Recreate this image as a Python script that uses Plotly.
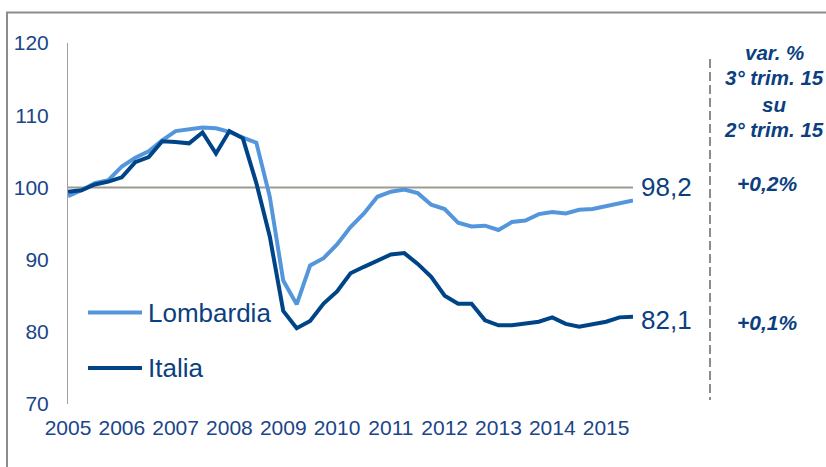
import plotly.graph_objects as go

# ---------------- data ----------------
years = ["2005", "2006", "2007", "2008", "2009", "2010", "2011", "2012", "2013", "2014", "2015"]
quarters = [f"{y} T{q}" for y in years for q in (1, 2, 3, 4)][:43]  # 2005 T1 .. 2015 T3

lombardia = [98.8, 99.6, 100.6, 101.0, 102.9, 104.1, 105.0, 106.5, 107.8, 108.0,
             108.3, 108.2, 107.7, 106.9, 106.2, 98.7, 87.1, 83.8, 89.2, 90.2,
             92.1, 94.5, 96.4, 98.7, 99.4, 99.7, 99.2, 97.6, 97.0, 95.1,
             94.6, 94.7, 94.1, 95.2, 95.4, 96.3, 96.6, 96.4, 96.9, 97.0,
             97.4, 97.9, 98.2]

italia = [99.4, 99.6, 100.4, 100.8, 101.4, 103.5, 104.2, 106.4, 106.3, 106.1,
          107.6, 104.7, 107.8, 106.8, 100.6, 93.2, 82.9, 80.5, 81.5, 83.9,
          85.6, 88.1, 89.0, 89.8, 90.7, 90.9, 89.4, 87.6, 85.0, 83.9,
          83.9, 81.6, 80.9, 80.9, 81.1, 81.4, 82.0, 81.1, 80.7, 81.0,
          81.4, 82.0, 82.1]

series_names = ["Lombardia", "Italia"]
last_labels = ["98,2", "82,1"]
var_labels = ["+0,2%", "+0,1%"]
header_lines = ["var. %", "3° trim. 15", "su", "2° trim. 15"]
y_ticks = [70, 80, 90, 100, 110, 120]

# ---------------- styles ----------------
W, H = 826, 467
L, R, T, B = 68, 193, 43, 63
PW, PH = W - L - R, H - T - B
FONT = "Liberation Sans, Arial, sans-serif"
C_LIGHT = "#5496dc"
C_DARK = "#004488"
C_TEXT = "#1a4588"
C_TEXT2 = "#0b3f80"
C_GRAY = "#8c8c8c"


def px(x):
    return (x - L) / PW


def py(y):
    return (H - B - y) / PH


fig = go.Figure()
fig.add_trace(go.Scatter(x=quarters, y=lombardia, mode="lines", name=series_names[0],
                         line=dict(color=C_LIGHT, width=4), showlegend=False))
fig.add_trace(go.Scatter(x=quarters, y=italia, mode="lines", name=series_names[1],
                         line=dict(color=C_DARK, width=4), showlegend=False))

shapes = [
    # reference line at 100
    dict(type="line", xref="paper", yref="y", x0=0, x1=1, y0=100, y1=100,
         line=dict(color="#9c9b92", width=2), layer="below"),
    # outer frame
    dict(type="rect", xref="paper", yref="paper", x0=px(7), x1=px(840), y0=py(12.5), y1=py(480),
         line=dict(color=C_GRAY, width=2)),
    # dashed separator
    dict(type="line", xref="paper", yref="paper", x0=px(710), x1=px(710), y0=py(59), y1=py(400),
         line=dict(color=C_GRAY, width=2, dash="9px,4px")),
    # manual legend lines
    dict(type="line", xref="paper", yref="paper", x0=px(88), x1=px(142), y0=py(312.5), y1=py(312.5),
         line=dict(color=C_LIGHT, width=4)),
    dict(type="line", xref="paper", yref="paper", x0=px(88), x1=px(142), y0=py(368), y1=py(368),
         line=dict(color=C_DARK, width=4)),
]

annotations = []
# legend texts
for name, yy in zip(series_names, [313, 368]):
    annotations.append(dict(text=name, xref="paper", yref="paper", x=px(146), y=py(yy),
                            xanchor="left", yanchor="middle", showarrow=False,
                            font=dict(family=FONT, size=26, color=C_TEXT2)))
# end value labels
for lab, yy in zip(last_labels, [187, 320]):
    annotations.append(dict(text=lab, xref="paper", yref="paper", x=px(639), y=py(yy),
                            xanchor="left", yanchor="middle", showarrow=False,
                            font=dict(family=FONT, size=26, color=C_TEXT2)))
# variation labels
for lab, yy in zip(var_labels, [183, 322]):
    annotations.append(dict(text=f"<b><i>{lab}</i></b>", xref="paper", yref="paper", x=px(767), y=py(yy),
                            xanchor="center", yanchor="middle", showarrow=False,
                            font=dict(family=FONT, size=21, color=C_TEXT2)))
# header
for lab, yy in zip(header_lines, [53, 78, 104, 129]):
    annotations.append(dict(text=f"<b><i>{lab}</i></b>", xref="paper", yref="paper", x=px(774), y=py(yy),
                            xanchor="center", yanchor="middle", showarrow=False,
                            font=dict(family=FONT, size=20.5, color=C_TEXT2)))

fig.update_layout(
    width=W, height=H,
    margin=dict(l=L, r=R, t=T, b=B, pad=0),
    paper_bgcolor="white", plot_bgcolor="white",
    shapes=shapes, annotations=annotations,
    font=dict(family=FONT, color=C_TEXT),
    hovermode=False,
)
fig.update_xaxes(type="category", range=[0, len(quarters) - 1],
                 tickmode="array", tickvals=[f"{y} T1" for y in years], ticktext=years,
                 showgrid=False, zeroline=False, showline=False, ticks="",
                 tickfont=dict(family=FONT, size=21, color=C_TEXT), ticklabelstandoff=9)
fig.update_yaxes(range=[70, 120], tickvals=y_ticks, showgrid=False, zeroline=False,
                 showline=True, linecolor="#a0a0a0", linewidth=1, ticks="",
                 tickfont=dict(family=FONT, size=21, color=C_TEXT), ticklabelstandoff=14)

fig.write_html("out.html", config={"displayModeBar": False},
               post_script="document.body.style.margin='0';document.body.style.overflow='hidden';")
